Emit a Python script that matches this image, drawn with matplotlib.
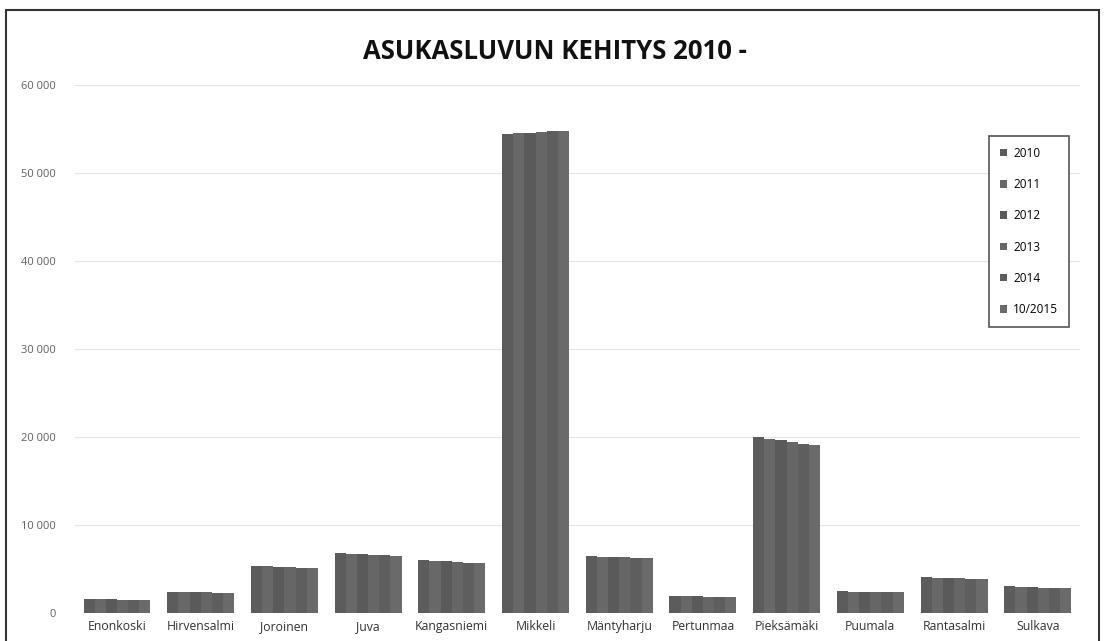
import numpy as np
import matplotlib
matplotlib.use("Agg")
import matplotlib.pyplot as plt
from matplotlib.ticker import FuncFormatter
from matplotlib.patches import Rectangle

plt.rcParams['font.family'] = ['Open Sans', 'DejaVu Sans']

# data
kunnat = ["Enonkoski", "Hirvensalmi", "Joroinen", "Juva", "Kangasniemi", "Mikkeli",
          "Mäntyharju", "Pertunmaa", "Pieksämäki", "Puumala", "Rantasalmi", "Sulkava"]
vuodet = ["2010", "2011", "2012", "2013", "2014", "10/2015"]

v2010 = [1590, 2420, 5350, 6800, 6000, 54500, 6450, 1900, 20000, 2450, 4050, 3000]
v2011 = [1560, 2390, 5300, 6730, 5930, 54550, 6400, 1880, 19800, 2420, 4000, 2950]
v2012 = [1530, 2360, 5250, 6670, 5850, 54600, 6350, 1860, 19600, 2400, 3960, 2900]
v2013 = [1500, 2330, 5200, 6600, 5780, 54700, 6300, 1840, 19400, 2380, 3920, 2870]
v2014 = [1470, 2300, 5150, 6540, 5700, 54750, 6250, 1820, 19250, 2350, 3880, 2830]
v2015 = [1440, 2270, 5100, 6480, 5620, 54800, 6200, 1800, 19050, 2330, 3850, 2800]
sarjat = [v2010, v2011, v2012, v2013, v2014, v2015]

harmaat = ["#5c5c5c", "#686868", "#5a5a5a", "#666666", "#5e5e5e", "#6a6a6a"]

fig = plt.figure(figsize=(11.05, 6.41), dpi=100)
ax = fig.add_axes([0.068, 0.044, 0.909, 0.823])

x = np.arange(len(kunnat))
w = 0.8 / len(sarjat)
for i, (s, nimi) in enumerate(zip(sarjat, vuodet)):
    ax.bar(x - 0.4 + w * (i + 0.5), s, width=w, color=harmaat[i], label=nimi,
           linewidth=0)

ax.set_ylim(0, 60000)
ax.set_xlim(-0.5, len(kunnat) - 0.5)
ax.set_yticks(range(0, 60001, 10000))
ax.yaxis.set_major_formatter(FuncFormatter(lambda v, p: f"{int(v):,}".replace(",", " ")))
ax.set_xticks(x)
ax.set_xticklabels(kunnat)
ax.tick_params(axis="x", length=0, labelsize=8.8, colors="#333333", pad=5)
ax.tick_params(axis="y", length=0, labelsize=8, pad=14, colors="#606060")
ax.grid(axis="y", color="#e4e4e4", linewidth=0.8)
ax.set_axisbelow(True)
for sp in ax.spines.values():
    sp.set_visible(False)

fig.text(0.502, 0.92, "ASUKASLUVUN KEHITYS 2010 -", ha="center", va="center",
         fontsize=18.5, fontweight="bold", color="#111111")

leg = ax.legend(loc="upper right", bbox_to_anchor=(0.995, 0.915), fontsize=8.5,
                handlelength=0.6, handleheight=0.6, labelspacing=1.55,
                borderpad=0.9, handletextpad=0.5, fancybox=False, framealpha=1)
leg.get_frame().set_edgecolor("#555555")
leg.get_frame().set_linewidth(1.2)

# scanned page frame
fig.patches.append(Rectangle((0.005, -0.01), 0.99, 0.994, transform=fig.transFigure,
                             fill=False, edgecolor="#333333", linewidth=1.5))

fig.savefig("out.png", dpi=100)
